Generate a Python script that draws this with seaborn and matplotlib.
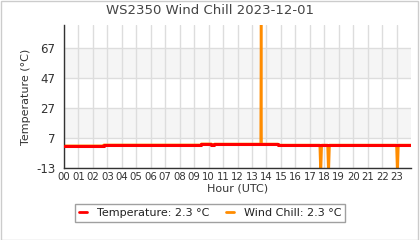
import matplotlib
matplotlib.use("Agg")
import matplotlib.pyplot as plt
import seaborn as sns
import pandas as pd
from matplotlib.lines import Line2D
from matplotlib.patches import Rectangle

title = "WS2350 Wind Chill 2023-12-01"
x_label = "Hour (UTC)"
y_label = "Temperature (°C)"
hour_labels = [f"{h:02d}" for h in range(24)]
y_ticks = [-13, 7, 27, 47, 67]

# temperature (step series): change times (hours) and values (°C)
temp_times = [0.0, 2.76, 9.5, 10.2, 10.4, 14.8, 24.0]
temp_vals = [1.8, 2.4, 3.1, 2.4, 3.0, 2.3, 2.3]

# wind chill: follows temperature with a few spikes/dips
wc_times = [0.0, 2.76, 2.76, 9.5, 9.5, 10.2, 10.2, 10.4, 10.4,
            13.60, 13.63, 13.66, 14.8, 14.8,
            17.68, 17.75, 17.82, 18.22, 18.29, 18.36,
            22.98, 23.05, 23.12, 24.0]
wc_vals = [1.8, 1.8, 2.4, 2.4, 3.1, 3.1, 2.4, 2.4, 3.0,
           3.0, 95.0, 3.0, 3.0, 2.3,
           2.3, -20.0, 2.3, 2.3, -20.0, 2.3,
           2.3, -20.0, 2.3, 2.3]

sns.set_style("white")
plt.rcParams['font.family'] = ['DejaVu Sans']
plt.rcParams['axes.unicode_minus'] = False

fig = plt.figure(figsize=(4.2, 2.4), dpi=100)
fig.patches.append(Rectangle((0.002, 0.002), 0.994, 0.994, transform=fig.transFigure,
                             fill=False, edgecolor="#cccccc", linewidth=1.0))
ax = fig.add_axes([0.152, 0.30, 0.827, 0.596])

ymin, ymax = -13, 82.3
ax.set_xlim(0, 24)
ax.set_ylim(ymin, ymax)

# alternating bands
for i in range(len(y_ticks) - 1):
    if i % 2 == 1:
        ax.axhspan(y_ticks[i], y_ticks[i + 1], color="#f5f5f5", zorder=0, lw=0)

ax.set_xticks(range(24))
ax.set_xticklabels(hour_labels)
ax.set_yticks(y_ticks)
ax.set_yticks([-3, 17, 37, 57, 77], minor=True)
ax.grid(True, which="major", color="#dddddd", linewidth=1.0, zorder=0.5)
ax.set_axisbelow(True)

wc_df = pd.DataFrame({"t": wc_times, "v": wc_vals})
temp_df = pd.DataFrame({"t": temp_times, "v": temp_vals})
sns.lineplot(data=wc_df, x="t", y="v", ax=ax, color="#ff8c00", lw=1.8,
             estimator=None, sort=False, zorder=2)
sns.lineplot(data=temp_df, x="t", y="v", ax=ax, color="#ff0000", lw=2.2,
             estimator=None, sort=False, drawstyle="steps-post", zorder=3)

for s in ["top", "right"]:
    ax.spines[s].set_visible(False)
for s in ["left", "bottom"]:
    ax.spines[s].set_color("#333333")
    ax.spines[s].set_linewidth(1.0)

ax.tick_params(axis="both", which="both", direction="out", length=4, width=1,
               color="#333333", labelsize=7, labelcolor="#333333", pad=2)
ax.tick_params(axis="x", length=0, pad=3, labelsize=7.3)
ax.tick_params(axis="y", labelsize=8.5)
ax.set_xlabel(x_label, fontsize=8, color="#333333", labelpad=1)
ax.set_ylabel(y_label, fontsize=8, color="#333333", labelpad=4)
fig.suptitle(title, fontsize=9.5, color="#444444", y=0.985)

handles = [Line2D([], [], color="#ff0000", lw=2),
           Line2D([], [], color="#ff8c00", lw=2)]
leg = fig.legend(handles, ["Temperature: 2.3 °C", "Wind Chill: 2.3 °C"],
                 loc="center", bbox_to_anchor=(0.5, 0.112), ncol=2, fontsize=8,
                 frameon=True, fancybox=False, edgecolor="#888888",
                 handlelength=0.7, handletextpad=0.9, columnspacing=1.5,
                 borderpad=0.35)
leg.get_frame().set_linewidth(1.0)
for t in leg.get_texts():
    t.set_color("#222222")

fig.savefig("out.png", dpi=100)
